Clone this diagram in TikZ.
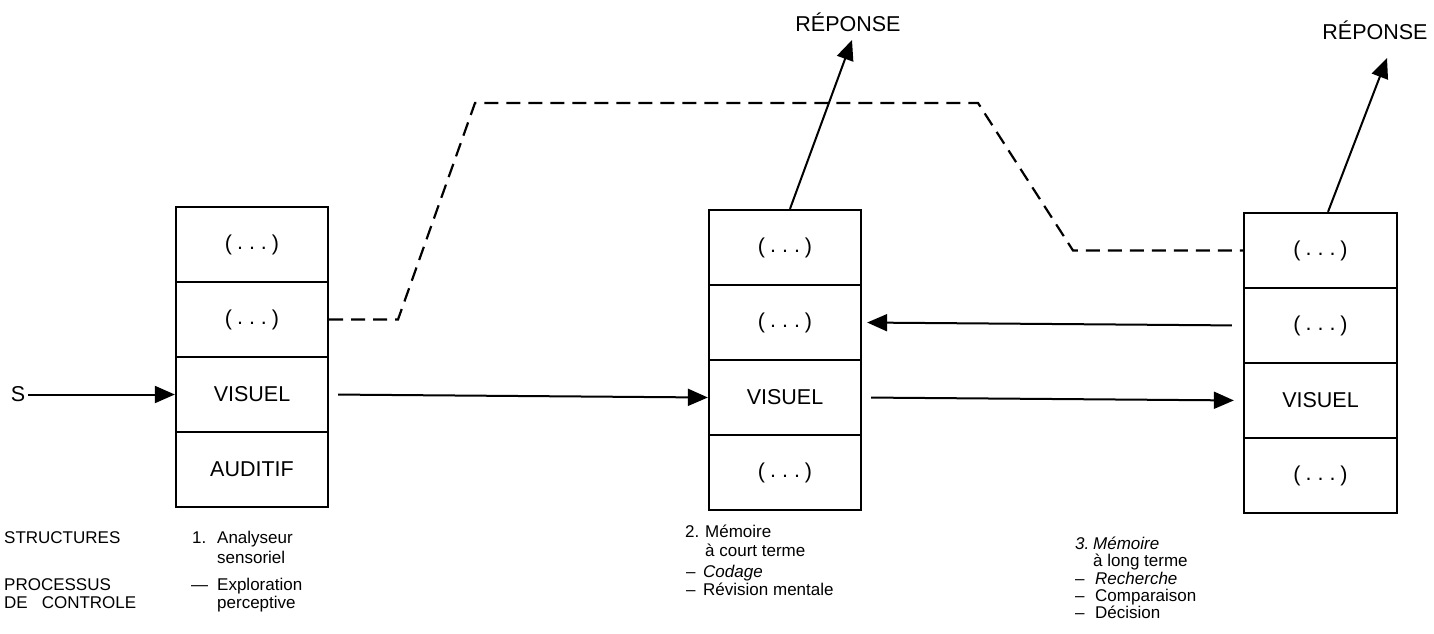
\documentclass[tikz,border=0pt]{standalone}
\usepackage{fontspec}
\setmainfont{Liberation Sans}
\usetikzlibrary{arrows.meta}
\newcommand\mydots{(\hspace{5pt}\raisebox{1pt}{.}\hspace{6pt}\raisebox{1pt}{.}\hspace{6pt}\raisebox{1pt}{.}\hspace{5pt})}
\begin{document}
\begin{tikzpicture}[x=1pt,y=-1pt,
  cell/.style={draw,line width=2.3pt,minimum width=152pt,minimum height=75pt,inner sep=0pt,font=\fontsize{21.5}{25}\selectfont},
  lbl/.style={anchor=base west,inner sep=0pt,font=\fontsize{17}{20}\selectfont},
  big/.style={inner sep=0pt,font=\fontsize{21.5}{25}\selectfont},
  arr/.style={line width=2pt,-{Triangle[length=20pt,width=17pt]}},
  dashline/.style={line width=2.2pt,dash pattern=on 14pt off 8pt},
]
\useasboundingbox (0,0) rectangle (1434,634);

% Box 1
\node[cell] (a1) at (252,244.5) {\mydots};
\node[cell] (a2) at (252,319.5) {\mydots};
\node[cell] (a3) at (252,394.5) {VISUEL};
\node[cell] (a4) at (252,469.5) {AUDITIF};
% Box 2
\node[cell] (b1) at (785,247.5) {\mydots};
\node[cell] (b2) at (785,322.5) {\mydots};
\node[cell] (b3) at (785,397.5) {VISUEL};
\node[cell] (b4) at (785,472.5) {\mydots};
% Box 3
\node[cell,minimum width=153pt] (c1) at (1320.5,250.5) {\mydots};
\node[cell,minimum width=153pt] (c2) at (1320.5,325.5) {\mydots};
\node[cell,minimum width=153pt] (c3) at (1320.5,400.5) {VISUEL};
\node[cell,minimum width=153pt] (c4) at (1320.5,475.5) {\mydots};

% Input
\node[big] (S) at (18,394.5) {S};
\draw[arr,shorten <=3pt] (S.east) -- (a3.west);

% Horizontal arrows
\draw[arr,shorten <=9pt] (a3.east) -- (b3.west);
\draw[arr,shorten <=9pt,shorten >=9pt] (b3.east) -- (c3.west);
\draw[arr,shorten <=11pt,shorten >=5pt] (c2.west) -- (b2.east);

% Dashed control path
\coordinate (d1) at (398,319.5);
\coordinate (d2) at (475,103);
\coordinate (d3) at (978,103);
\coordinate (d4) at (1073,250.5);
\draw[dashline] (a2.east) -- (d1) -- (d2) -- (d3) -- (d4) -- (c1.west);

% Responses
\node[big] (r2) at (848,22) {RÉPONSE};
\node[big] (r3) at (1375,30) {RÉPONSE};
\coordinate (t2) at (852,40);
\coordinate (t3) at (1387,58);
\draw[arr] ([xshift=5pt]b1.north) -- (t2);
\draw[arr] ([xshift=7.5pt]c1.north) -- (t3);

% Bottom labels
\node[lbl] (s1) at (4,543) {STRUCTURES};
\node[lbl] (s2) at (4,590) {PROCESSUS};
\node[lbl] (s3) at (4,608) {DE\hspace{14pt}CONTROLE};

\node[lbl] (p1n) at (192,543) {1.};
\node[lbl] (p1a) at (217,543) {Analyseur};
\node[lbl] (p1b) at (217,563) {sensoriel};
\node[lbl] (p1c) at (191,590) {—};
\node[lbl] (p1d) at (217,590) {Exploration};
\node[lbl] (p1e) at (217,608) {perceptive};

\node[lbl] (p2n) at (685,537) {2.};
\node[lbl] (p2a) at (705,537) {Mémoire};
\node[lbl] (p2b) at (705,556) {à court terme};
\node[lbl] (p2c) at (686,577) {–};
\node[lbl] (p2d) at (703,577) {\itshape Codage};
\node[lbl] (p2e) at (686,595) {–};
\node[lbl] (p2f) at (703,595) {Révision mentale};

\node[lbl] (p3n) at (1075,549) {\itshape 3.};
\node[lbl] (p3a) at (1093,549) {\itshape Mémoire};
\node[lbl] (p3b) at (1093,566) {à long terme};
\node[lbl] (p3c) at (1075,584) {–};
\node[lbl] (p3d) at (1095,584) {\itshape Recherche};
\node[lbl] (p3e) at (1075,601) {–};
\node[lbl] (p3f) at (1095,601) {Comparaison};
\node[lbl] (p3g) at (1075,618) {–};
\node[lbl] (p3h) at (1095,618) {Décision};
\end{tikzpicture}
\end{document}
